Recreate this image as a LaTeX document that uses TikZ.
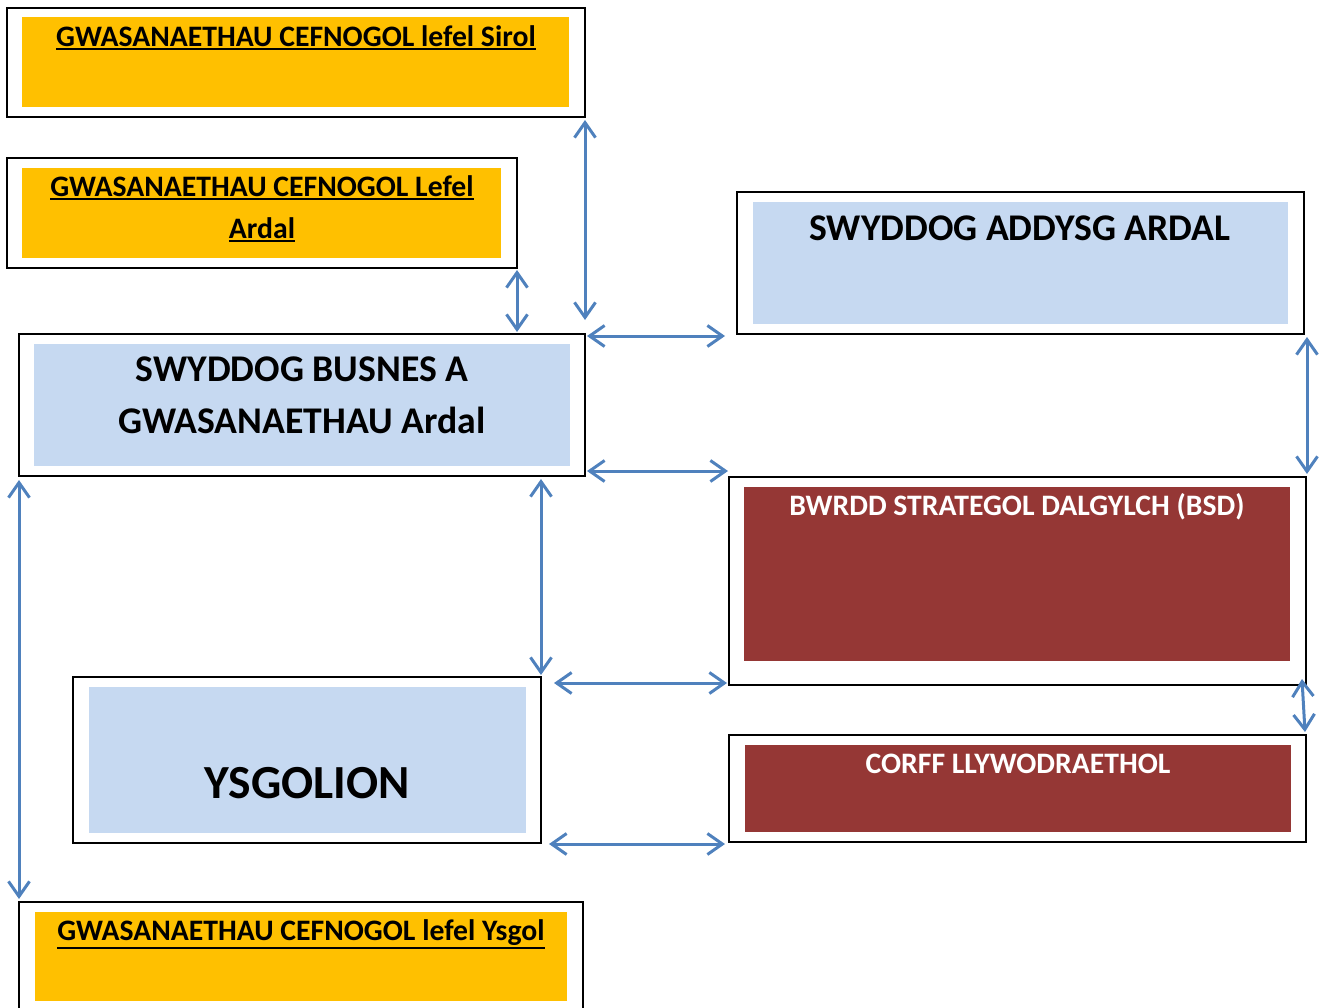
\documentclass[tikz,border=0pt]{standalone}
\usepackage{fontspec}
\setmainfont{Carlito}
\usetikzlibrary{arrows.meta,calc}
\definecolor{ylw}{HTML}{FFC000}
\definecolor{lblue}{HTML}{C6D9F1}
\definecolor{dred}{HTML}{953735}
\definecolor{ablue}{HTML}{4F81BD}
\newcommand{\myul}[1]{\leavevmode\vtop{\hbox{#1}\kern2pt\hrule height 2pt}}
\tikzset{
  outerbox/.style={draw=black, line width=1.6pt, inner sep=0pt, outer sep=0pt, fill=white},
  fillbox/.style={inner sep=0pt, outer sep=0pt, draw=none},
  smalltxt/.style={anchor=base, inner sep=0pt, font=\fontsize{29.7}{34}\selectfont\bfseries},
  bigtxt/.style={anchor=base, inner sep=0pt, font=\fontsize{37.7}{44}\selectfont\bfseries},
  biarrow/.style={draw=ablue, line width=3pt,
    {Straight Barb[length=15pt,width=21pt,line width=3pt]}-{Straight Barb[length=15pt,width=21pt,line width=3pt]}}
}
\begin{document}
\begin{tikzpicture}[x=1pt,y=-1pt]
\useasboundingbox (0,0) rectangle (1320,1007);
% Sirol
\node[outerbox, minimum width=578, minimum height=109] (sirol) at (296,62.5) {};
\node[fillbox, fill=ylw, minimum width=547, minimum height=90] (sirolfill) at (295.5,62) {};
\node[smalltxt] (siroltxt) at (296,46) {\myul{GWASANAETHAU CEFNOGOL lefel Sirol}};
% Ardal
\node[outerbox, minimum width=510, minimum height=110] (ardal) at (262,213) {};
\node[fillbox, fill=ylw, minimum width=479, minimum height=90] (ardalfill) at (261.5,213) {};
\node[smalltxt] (ardaltxta) at (262,196) {\myul{GWASANAETHAU CEFNOGOL Lefel}};
\node[smalltxt] (ardaltxtb) at (262,238) {\myul{Ardal}};
% Addysg
\node[outerbox, minimum width=567, minimum height=142] (addysg) at (1020.5,263) {};
\node[fillbox, fill=lblue, minimum width=535, minimum height=122] (addysgfill) at (1020.5,263) {};
\node[bigtxt] (addysgtxt) at (1020,240) {SWYDDOG ADDYSG ARDAL};
% Busnes
\node[outerbox, minimum width=566, minimum height=142] (busnes) at (302,405) {};
\node[fillbox, fill=lblue, minimum width=536, minimum height=122] (busnesfill) at (302,405) {};
\node[bigtxt] (busnestxta) at (302,381) {SWYDDOG BUSNES A};
\node[bigtxt] (busnestxtb) at (302,433) {GWASANAETHAU Ardal};
% BSD
\node[outerbox, minimum width=577, minimum height=208] (bsd) at (1017.5,581) {};
\node[fillbox, fill=dred, minimum width=546, minimum height=174] (bsdfill) at (1017,574) {};
\node[smalltxt, text=white] (bsdtxt) at (1017,515) {BWRDD STRATEGOL DALGYLCH (BSD)};
% Ysgolion
\node[outerbox, minimum width=468, minimum height=166] (ysgolion) at (307,760) {};
\node[fillbox, fill=lblue, minimum width=437, minimum height=146] (ysgolionfill) at (307.5,760) {};
\node[anchor=base, inner sep=0pt, font=\fontsize{47.5}{56}\selectfont\bfseries] (ysgoliontxt) at (307,798) {YSGOLION};
% Corff
\node[outerbox, minimum width=577, minimum height=107] (corff) at (1017.5,788.5) {};
\node[fillbox, fill=dred, minimum width=546, minimum height=87] (corffill) at (1018,788.5) {};
\node[smalltxt, text=white] (corfftxt) at (1018,773) {CORFF LLYWODRAETHOL};
% Ysgol
\node[outerbox, minimum width=564, minimum height=113] (ysgol) at (301,958.5) {};
\node[fillbox, fill=ylw, minimum width=532, minimum height=89] (ysgolfill) at (301,956.5) {};
\node[smalltxt] (ysgoltxt) at (301,940) {\myul{GWASANAETHAU CEFNOGOL lefel Ysgol}};
% arrows
\draw[biarrow] ($(sirol.south east)+(0,3)$) -- ($(busnes.north east)+(0,-14)$);
\draw[biarrow] ($(ardal.south east)+(0,2)$) -- ($(ardal.south east |- busnes.north)+(0,-2)$);
\draw[biarrow] ($(busnes.north east)+(2,2)$) -- ($(addysg.west |- busnes.north east)+(-12,2)$);
\draw[biarrow] ($(addysg.south east)+(3,3)$) -- ($(addysg.south east |- bsd.north)+(3,-3)$);
\draw[biarrow] ($(busnes.south east)+(2,-5)$) -- ($(bsd.north west)+(-1,-6)$);
\draw[biarrow] ($(ysgolion.north east |- busnes.south)+(0,3)$) -- ($(ysgolion.north east)+(0,-2)$);
\draw[biarrow] ($(ysgolion.north east)+(13,6)$) -- ($(bsd.south west)+(-2,-2)$);
\draw[biarrow] ($(bsd.south east)+(-4,-6)$) -- ($(corff.north east)+(-1,-3)$);
\draw[biarrow] ($(ysgolion.south east)+(8,1)$) -- ($(corff.south west)+(-4,2)$);
\draw[biarrow] ($(busnes.south west)+(0,4)$) -- ($(ysgol.north west)+(0,-3)$);
\end{tikzpicture}
\end{document}
